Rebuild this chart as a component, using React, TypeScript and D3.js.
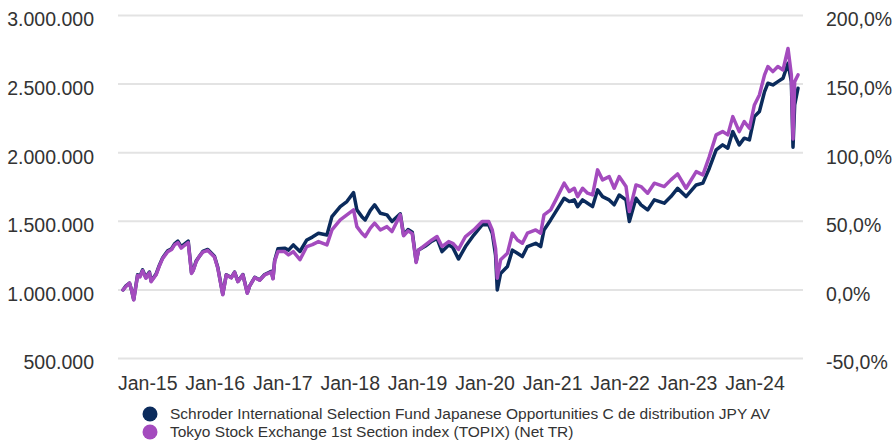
import React from "react";
import * as d3 from "d3";

// values (fund value in JPY, index rebased to the same start)
const dates = [
  "2014-08-20", "2014-09-05", "2014-09-24", "2014-10-05", "2014-10-17", "2014-11-07", "2014-11-20",
  "2014-12-04", "2014-12-22", "2015-01-10", "2015-01-19", "2015-02-15", "2015-03-05", "2015-03-23",
  "2015-04-19", "2015-05-10", "2015-05-26", "2015-06-13", "2015-07-01", "2015-07-15", "2015-08-08",
  "2015-08-26", "2015-09-04", "2015-09-20", "2015-10-05", "2015-10-26", "2015-11-22", "2015-12-28",
  "2016-01-15", "2016-02-11", "2016-03-01", "2016-03-28", "2016-04-15", "2016-05-03", "2016-05-30",
  "2016-06-23", "2016-07-06", "2016-08-02", "2016-08-29", "2016-09-25", "2016-10-31", "2016-11-09",
  "2016-11-18", "2016-12-06", "2017-01-11", "2017-02-01", "2017-02-27", "2017-04-04", "2017-05-11",
  "2017-06-10", "2017-07-13", "2017-08-28", "2017-09-24", "2017-11-08", "2017-12-14", "2018-01-19",
  "2018-02-06", "2018-03-05", "2018-03-23", "2018-04-20", "2018-05-13", "2018-06-13", "2018-07-19",
  "2018-08-15", "2018-09-29", "2018-10-17", "2018-11-10", "2018-12-03", "2018-12-12", "2018-12-24",
  "2019-01-06", "2019-02-12", "2019-03-19", "2019-04-16", "2019-05-13", "2019-06-18", "2019-07-10",
  "2019-08-10", "2019-09-17", "2019-11-01", "2019-12-16", "2020-01-21", "2020-02-09", "2020-02-27",
  "2020-03-07", "2020-03-25", "2020-05-01", "2020-05-28", "2020-06-24", "2020-07-21", "2020-08-17",
  "2020-10-01", "2020-10-28", "2020-11-15", "2020-12-21", "2021-01-18", "2021-03-04", "2021-04-01",
  "2021-04-28", "2021-05-16", "2021-06-12", "2021-07-09", "2021-08-05", "2021-09-01", "2021-09-28",
  "2021-11-03", "2021-11-30", "2021-12-27", "2022-02-02", "2022-02-20", "2022-03-28", "2022-04-24",
  "2022-05-30", "2022-07-05", "2022-08-28", "2022-10-03", "2022-11-08", "2022-12-24", "2023-02-17",
  "2023-03-25", "2023-04-29", "2023-06-05", "2023-07-10", "2023-08-07", "2023-09-03", "2023-10-08",
  "2023-11-04", "2023-12-02", "2023-12-29", "2024-01-25", "2024-02-22", "2024-03-11", "2024-04-07",
  "2024-05-04", "2024-06-01", "2024-06-28", "2024-07-16", "2024-07-25", "2024-08-03", "2024-08-21",
];

// in thousands
const fundValues = [
  1000, 1030, 1050, 1000, 930, 1110, 1100, 1146, 1090, 1130, 1065, 1115, 1180, 1235,
  1285, 1300, 1335, 1355, 1315, 1330, 1355, 1125, 1145, 1210, 1240, 1280, 1295, 1245,
  1165, 968, 1110, 1090, 1130, 1062, 1112, 978, 1030, 1092, 1072, 1112, 1135, 1085,
  1215, 1300, 1304, 1290, 1328, 1280, 1364, 1385, 1413, 1400, 1534, 1607, 1644, 1709,
  1583, 1534, 1510, 1580, 1620, 1559, 1547, 1498, 1555, 1400, 1440, 1420, 1330, 1206,
  1290, 1320, 1355, 1375, 1279, 1328, 1310, 1225, 1316, 1400, 1474, 1474, 1413, 1250,
  1000, 1120, 1170, 1290, 1267, 1243, 1316, 1340, 1316, 1437, 1510, 1571, 1668, 1644,
  1656, 1607, 1656, 1632, 1607, 1729, 1680, 1656, 1620, 1692, 1656, 1498, 1668, 1620,
  1583, 1656, 1632, 1680, 1740, 1680, 1765, 1778, 1887, 2020, 2057, 2033, 2154, 2057,
  2106, 2093, 2263, 2300, 2445, 2506, 2494, 2518, 2543, 2652, 2518, 2040, 2348, 2470,
];

const indexValues = [
  1000, 1025, 1050, 1000, 927, 1105, 1095, 1140, 1085, 1125, 1060, 1110, 1175, 1230,
  1278, 1295, 1328, 1345, 1305, 1320, 1345, 1120, 1140, 1205, 1240, 1275, 1288, 1240,
  1160, 965, 1108, 1088, 1128, 1060, 1110, 975, 1030, 1090, 1070, 1110, 1130, 1080,
  1210, 1280, 1279, 1255, 1279, 1220, 1316, 1330, 1352, 1328, 1437, 1510, 1547, 1583,
  1461, 1413, 1389, 1450, 1486, 1437, 1461, 1425, 1547, 1395, 1430, 1410, 1320, 1200,
  1290, 1328, 1364, 1389, 1316, 1352, 1340, 1295, 1389, 1437, 1498, 1498, 1437, 1300,
  1085, 1219, 1267, 1413, 1364, 1340, 1413, 1437, 1413, 1547, 1583, 1656, 1778, 1717,
  1741, 1680, 1741, 1705, 1692, 1875, 1802, 1826, 1741, 1826, 1753, 1571, 1765, 1753,
  1705, 1778, 1753, 1802, 1845, 1741, 1862, 1838, 1972, 2130, 2154, 2130, 2263, 2154,
  2227, 2178, 2348, 2421, 2567, 2628, 2591, 2628, 2603, 2760, 2567, 2100, 2518, 2567,
];

const leftTicks = [500000, 1000000, 1500000, 2000000, 2500000, 3000000];
const tickYears = [2015, 2016, 2017, 2018, 2019, 2020, 2021, 2022, 2023, 2024];

const seriesNames = [
  "Schroder International Selection Fund Japanese Opportunities C de distribution JPY AV",
  "Tokyo Stock Exchange 1st Section index (TOPIX) (Net TR)",
];
const colors = ["#0b2b5c", "#a44bbe"];

const locale = d3.formatLocale({
  decimal: ",",
  thousands: ".",
  grouping: [3],
  currency: ["", ""],
  minus: "-",
});
const fmtLeft = locale.format(",.0f");
const fmtPct = locale.format(".1f");

export default function App() {
  const width = 893;
  const height = 444;
  const parse = d3.timeParse("%Y-%m-%d");
  const parsed = dates.map((d) => parse(d) as Date);

  const x = d3
    .scaleTime()
    .domain([parsed[0], parsed[parsed.length - 1]])
    .range([123, 798]);
  const y = d3.scaleLinear().domain([500000, 3000000]).range([358.5, 15.5]);

  const line = d3
    .line<number>()
    .x((_, i) => x(parsed[i]))
    .y((d) => y(d * 1000));

  const series = [fundValues, indexValues];
  const font = "Arial, 'Liberation Sans', sans-serif";

  return (
    <svg
      width={width}
      height={height}
      style={{ position: "absolute", left: 0, top: 0, background: "#fff" }}
      fontFamily={font}
    >
      {leftTicks.map((t) => (
        <g key={t}>
          <line x1={118} x2={803} y1={y(t)} y2={y(t)} stroke="#e3e3e3" strokeWidth={2} />
          <text x={94} y={y(t) + 4} dy="0.35em" textAnchor="end" fontSize={19.5} fill="#333">
            {fmtLeft(t)}
          </text>
          <text x={826} y={y(t) + 4} dy="0.35em" textAnchor="start" fontSize={19.5} fill="#333">
            {fmtPct((t / 1000000 - 1) * 100) + "%"}
          </text>
        </g>
      ))}

      {tickYears.map((yr) => (
        <text
          key={yr}
          x={x(new Date(yr, 0, 1))}
          y={383}
          dy="0.35em"
          textAnchor="middle"
          fontSize={19.5}
          fill="#333"
        >
          {"Jan-" + String(yr).slice(2)}
        </text>
      ))}

      {series.map((s, i) => (
        <path
          key={i}
          d={line(s) || ""}
          fill="none"
          stroke={colors[i]}
          strokeWidth={3.5}
          strokeLinejoin="round"
          strokeLinecap="round"
        />
      ))}

      {seriesNames.map((name, i) => (
        <g key={name}>
          <circle cx={150} cy={414 + i * 18} r={7.5} fill={colors[i]} />
          <text x={170} y={414 + i * 18} dy="0.35em" fontSize={15.5} fill="#333">
            {name}
          </text>
        </g>
      ))}
    </svg>
  );
}
